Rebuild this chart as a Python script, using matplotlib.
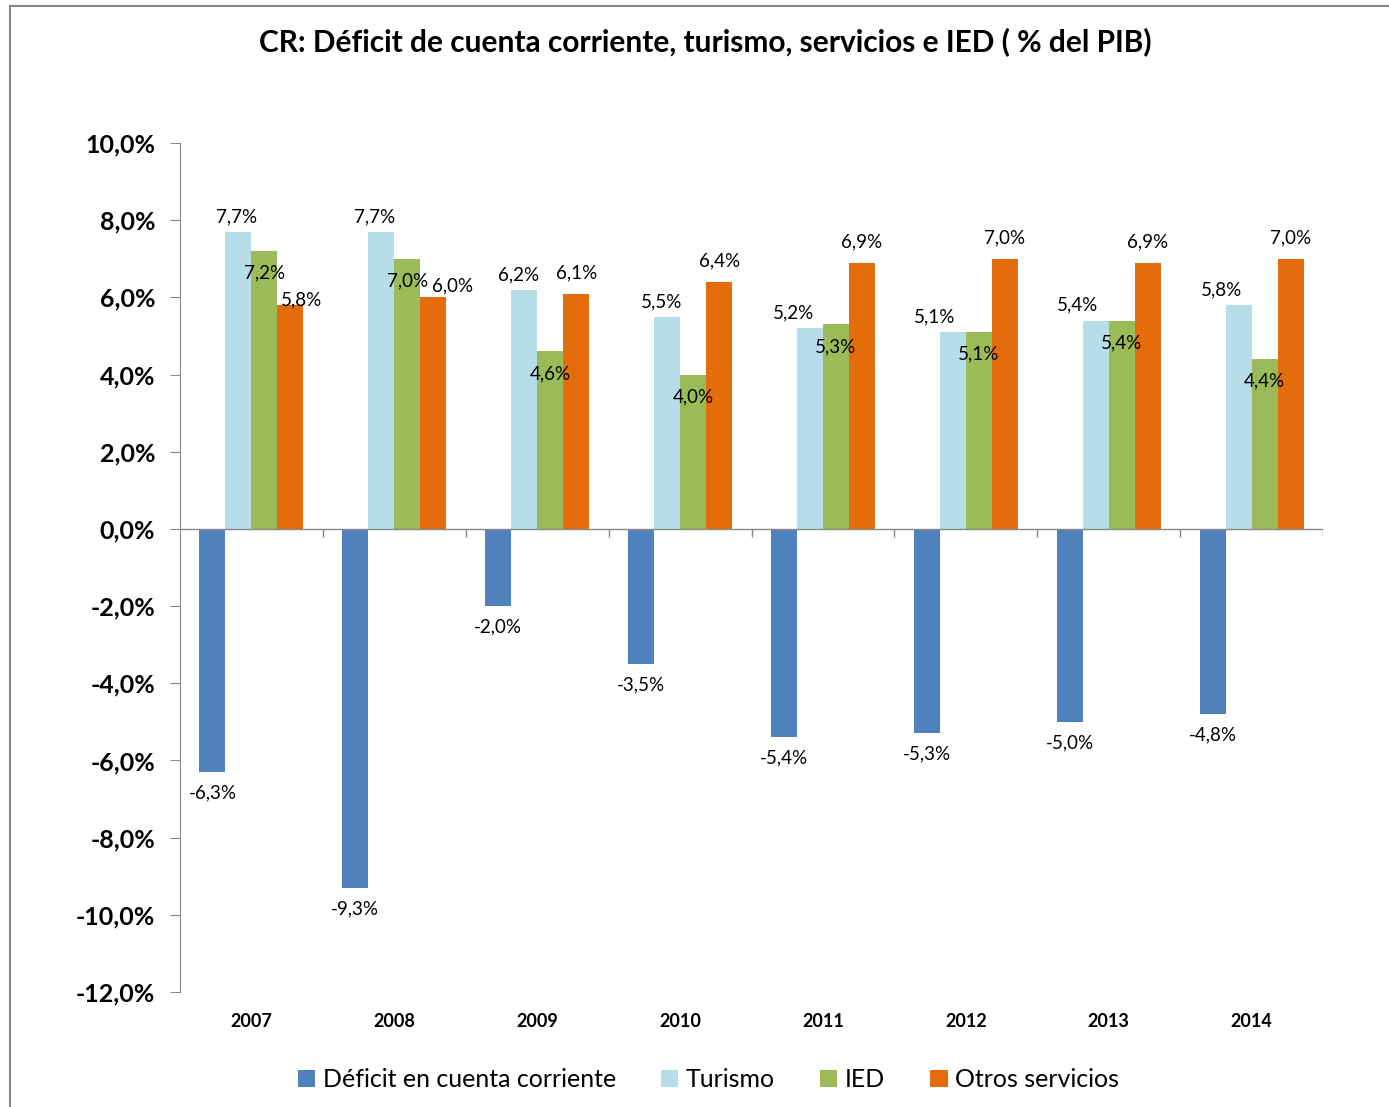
import numpy as np
import matplotlib
matplotlib.use('Agg')
import matplotlib.pyplot as plt
from matplotlib.patches import Rectangle

plt.rcParams['font.family'] = ['Lato', 'DejaVu Sans']

YEARS = ['2007', '2008', '2009', '2010', '2011', '2012', '2013', '2014']
DEFICIT = [-6.3, -9.3, -2.0, -3.5, -5.4, -5.3, -5.0, -4.8]
TURISMO = [7.7, 7.7, 6.2, 5.5, 5.2, 5.1, 5.4, 5.8]
IED = [7.2, 7.0, 4.6, 4.0, 5.3, 5.1, 5.4, 4.4]
OTROS = [5.8, 6.0, 6.1, 6.4, 6.9, 7.0, 6.9, 7.0]

SERIES = ['Déficit en cuenta corriente', 'Turismo', 'IED', 'Otros servicios']
COLORS = ['#4F81BD', '#B7DEE8', '#9BBB59', '#E46C0A']

# label nudges in points (the original labels were dragged by hand a bit)
TUR_DX = [-1, -5, -4, -4, -12, -13, -13, -12]
OTR_DX = [8, 14, 0, 0, 0, 0, 0, 0]
OTR_DY = [4, 8, 15, 15, 15, 15, 15, 15]


def fmt(v):
    return '{:.1f}%'.format(v).replace('.', ',')


fig = plt.figure(figsize=(13.89, 11.07), dpi=100)
ax = fig.add_axes([0.1296, 0.1039, 0.8229, 0.7669])

x = np.arange(len(YEARS))
w = 0.182
data = [DEFICIT, TURISMO, IED, OTROS]
for i, (vals, col, name) in enumerate(zip(data, COLORS, SERIES)):
    ax.bar(x + (i - 1.5) * w, vals, w, color=col, label=name, zorder=2)

lab = dict(textcoords='offset points', ha='center', va='center', fontsize=13.5)
for j in range(len(YEARS)):
    ax.annotate(fmt(DEFICIT[j]), (x[j] - 1.5 * w, DEFICIT[j]), xytext=(0, -15), **lab)
    ax.annotate(fmt(TURISMO[j]), (x[j] - 0.5 * w, TURISMO[j]), xytext=(TUR_DX[j], 11), **lab)
    ax.annotate(fmt(IED[j]), (x[j] + 0.5 * w, IED[j]), xytext=(0, -16), **lab)
    ax.annotate(fmt(OTROS[j]), (x[j] + 1.5 * w, OTROS[j]), xytext=(OTR_DX[j], OTR_DY[j]), **lab)

ax.set_xlim(-0.5, len(YEARS) - 0.5)
ax.set_ylim(-12, 10)
ax.set_yticks(np.arange(-12, 10.1, 2))
ax.set_yticklabels([fmt(v) for v in np.arange(-12, 10.1, 2)], fontsize=18, fontweight='bold')
ax.tick_params(axis='y', length=7, color='#888888', pad=11)

ax.set_xticks(x)
ax.set_xticklabels(YEARS, fontsize=13, fontweight='bold')
ax.tick_params(axis='x', length=0, pad=15)

for s in ['top', 'right', 'bottom']:
    ax.spines[s].set_visible(False)
ax.spines['left'].set_color('#888888')

ax.axhline(0, color='#888888', lw=1, zorder=3)
ax.vlines(np.arange(0.5, len(YEARS)), -0.2, 0, color='#888888', lw=1, zorder=3)

fig.text(0.508, 0.962, 'CR: Déficit de cuenta corriente, turismo, servicios e IED ( % del PIB)',
         ha='center', va='center', fontsize=21.5, fontweight='bold')

fig.legend(loc='center', bbox_to_anchor=(0.51, 0.0244), ncol=4, frameon=False,
           fontsize=18, handlelength=0.7, handleheight=0.7, handletextpad=0.3,
           columnspacing=1.8)

fig.patches.append(Rectangle((0.0072, -0.01), 1.0, 1.0046, transform=fig.transFigure,
                             fill=False, edgecolor='#888888', lw=1.5))

fig.savefig('out.png')
